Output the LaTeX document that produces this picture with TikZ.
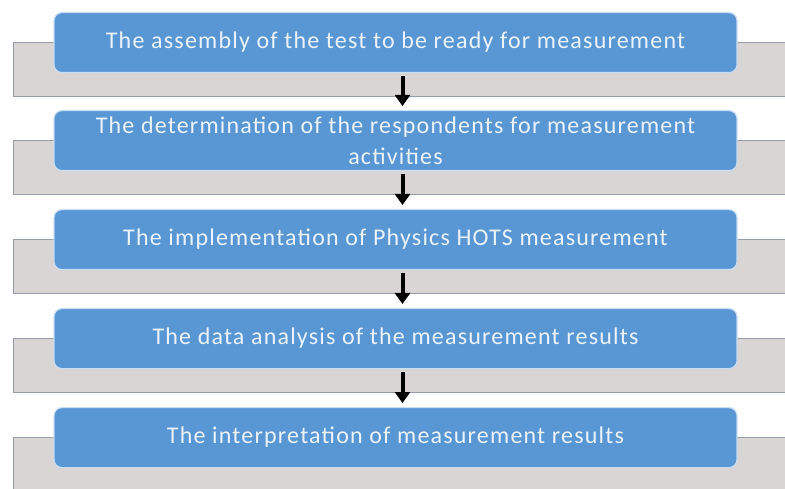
\documentclass[tikz,border=0pt]{standalone}
\usepackage{fontspec}
\setmainfont{Carlito}[LetterSpace=5]
\usetikzlibrary{arrows.meta}
\definecolor{stepblue}{RGB}{88,150,212}
\definecolor{stepedge}{RGB}{200,222,242}
\definecolor{steptext}{RGB}{236,243,250}
\definecolor{shelffill}{RGB}{217,213,213}
\definecolor{shelfedge}{RGB}{150,158,170}
\tikzset{
  stepbox/.style={draw=stepedge, line width=1.2pt, fill=stepblue, rounded corners=8pt,
    minimum width=683pt, minimum height=60pt, inner sep=0pt, align=center,
    text=steptext, font=\fontsize{24}{31}\selectfont, anchor=north},
  shelf/.style={draw=shelfedge, line width=1pt, fill=shelffill,
    minimum width=800pt, minimum height=54pt, inner sep=0pt, anchor=north west},
  flow/.style={draw=black, line width=4pt, -{Triangle[width=15pt,length=11pt]},
    shorten <=3pt, shorten >=4pt}
}
\begin{document}
\begin{tikzpicture}[x=1pt,y=-1pt]
\useasboundingbox (0,0) rectangle (785,489);
\clip (0,0) rectangle (785,489);
\fill[white] (0,0) rectangle (785,489);
% grey shelves behind each step
\node[shelf] (g1) at (13,42) {};
\node[shelf] (g2) at (13,140) {};
\node[shelf] (g3) at (13,239) {};
\node[shelf] (g4) at (13,338) {};
\node[shelf] (g5) at (13,437) {};
% steps
\node[stepbox] (b1) at (395.5,12) {The assembly of the test to be ready for measurement};
\node[stepbox] (b2) at (395.5,110) {The determination of the respondents for measurement\\activities};
\node[stepbox] (b3) at (395.5,209) {The implementation of Physics HOTS measurement};
\node[stepbox] (b4) at (395.5,308) {The data analysis of the measurement results};
\node[stepbox] (b5) at (395.5,407) {The interpretation of measurement results};
% arrows between steps
\foreach \a/\b in {b1/b2,b2/b3,b3/b4,b4/b5}
  \draw[flow] ([xshift=7pt]\a.south) -- ([xshift=7pt]\b.north);
\end{tikzpicture}
\end{document}
